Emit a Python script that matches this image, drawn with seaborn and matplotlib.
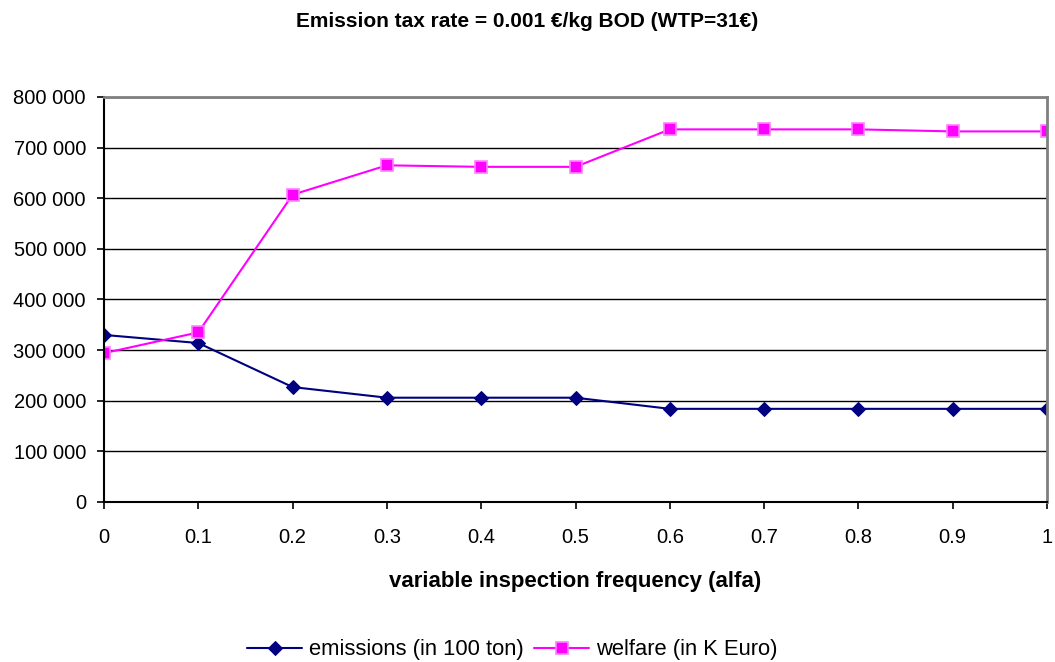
import pandas as pd
import matplotlib
matplotlib.use("Agg")
import matplotlib.pyplot as plt
import matplotlib.ticker as mticker
import seaborn as sns

# data
alfa = [0, 0.1, 0.2, 0.3, 0.4, 0.5, 0.6, 0.7, 0.8, 0.9, 1]
emissions = [330000, 314000, 227000, 206000, 206000, 206000, 184000, 184000, 184000, 184000, 184000]
welfare = [294000, 335000, 607000, 665000, 662000, 662000, 736000, 736000, 736000, 732000, 732000]
labels = ["emissions (in 100 ton)", "welfare (in K Euro)"]
xticklabels = ["0", "0.1", "0.2", "0.3", "0.4", "0.5", "0.6", "0.7", "0.8", "0.9", "1"]

df_em = pd.DataFrame({"alfa": alfa, "value": emissions})
df_we = pd.DataFrame({"alfa": alfa, "value": welfare})

sns.set_style("white")
plt.rcParams["font.family"] = ["Liberation Sans", "DejaVu Sans"]
plt.rcParams["text.color"] = "black"
plt.rcParams["axes.labelcolor"] = "black"

fig = plt.figure(figsize=(10.55, 6.62), dpi=100)
ax = fig.add_axes([0.0986, 0.2417, 0.8938, 0.6118])

sns.lineplot(x="alfa", y="value", data=df_em, ax=ax, color="#000080", marker="D",
             markersize=7.5, markeredgecolor="#000080", linewidth=1.5, label=labels[0])
sns.lineplot(x="alfa", y="value", data=df_we, ax=ax, color="#ff00ff", marker="s",
             markersize=8, markerfacecolor="#ff00ff", markeredgecolor="#ff80ff",
             markeredgewidth=1.2, linewidth=1.5, label=labels[1])

ax.set_xlim(0, 1)
ax.set_ylim(0, 800000)
ax.set_xticks(alfa)
ax.set_xticklabels(xticklabels)
ax.set_yticks(range(0, 800001, 100000))
ax.yaxis.set_major_formatter(mticker.FuncFormatter(lambda v, p: f"{int(v):,}".replace(",", " ")))
ax.tick_params(axis="both", labelsize=14.5, length=5, width=1.2, direction="out",
               bottom=True, left=True, colors="black")
ax.tick_params(axis="x", pad=14)
ax.tick_params(axis="y", pad=8)

ax.yaxis.grid(True, color="black", linewidth=1)
ax.set_axisbelow(True)
for s in ["left", "bottom"]:
    ax.spines[s].set_color("black")
    ax.spines[s].set_linewidth(1.5)
for s in ["top", "right"]:
    ax.spines[s].set_color("#808080")
    ax.spines[s].set_linewidth(2)

ax.set_xlabel("variable inspection frequency (alfa)", fontsize=16, fontweight="bold", labelpad=17)
ax.set_ylabel("")
fig.suptitle("Emission tax rate = 0.001 €/kg BOD (WTP=31€)", fontsize=15, fontweight="bold", y=0.982)

ax.legend(loc="upper center", bbox_to_anchor=(0.433, -0.29), ncol=2, frameon=False,
          fontsize=15.8, handlelength=2.5, columnspacing=0.5, handletextpad=0.3)

plt.savefig("out.png", dpi=100)
